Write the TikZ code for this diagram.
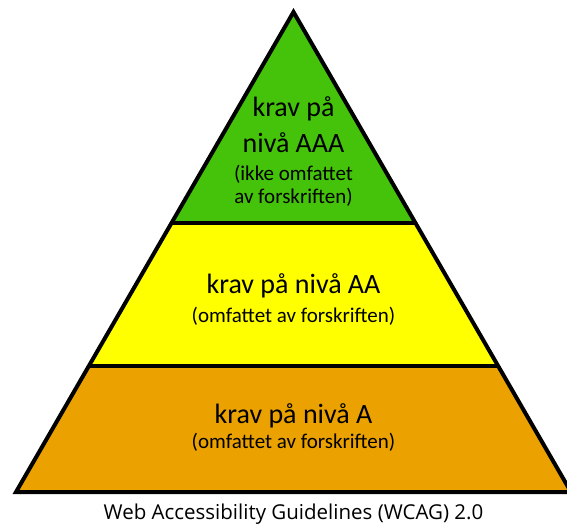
\documentclass[tikz,border=0pt]{standalone}
\usepackage{fontspec}
\setmainfont{Carlito}
\newfontfamily\capfont{Open Sans}
\definecolor{lvlgreen}{RGB}{68,195,10}
\definecolor{lvlyellow}{RGB}{255,255,0}
\definecolor{lvlorange}{RGB}{235,162,0}
\tikzset{
  big/.style={anchor=base, inner sep=0pt, font=\fontsize{28}{34}\selectfont},
  small/.style={anchor=base, inner sep=0pt, font=\fontsize{21}{25}\selectfont},
  edge/.style={draw=black, line width=4pt, line join=miter},
}
\begin{document}
\begin{tikzpicture}[x=1pt,y=-1pt]
\useasboundingbox (0,0) rectangle (567,524);
% geometry
\coordinate (apex) at (293.5,12);
\coordinate (bl) at (16,492);
\coordinate (br) at (571,492);
\coordinate (m1l) at (171.4,223);
\coordinate (m1r) at (415.6,223);
\coordinate (m2l) at (88.7,366);
\coordinate (m2r) at (498.3,366);
% fills
\fill[lvlgreen] (apex) -- (m1r) -- (m1l) -- cycle;
\fill[lvlyellow] (m1l) -- (m1r) -- (m2r) -- (m2l) -- cycle;
\fill[lvlorange] (m2l) -- (m2r) -- (br) -- (bl) -- cycle;
% lines
\draw[edge] (m1l) -- (m1r);
\draw[edge] (m2l) -- (m2r);
\draw[edge] (apex) -- (br) -- (bl) -- cycle;
% texts
\node[big] (t1a) at (293.5,117) {krav på};
\node[big] (t1b) at (293.5,152) {nivå AAA};
\node[small] (t1c) at (293.5,180) {(ikke omfattet};
\node[small] (t1d) at (293.5,203) {av forskriften)};
\node[big] (t2a) at (293.5,293) {krav på nivå AA};
\node[small] (t2b) at (293.5,322) {(omfattet av forskriften)};
\node[big] (t3a) at (293.5,423) {krav på nivå A};
\node[small] (t3b) at (293.5,448) {(omfattet av forskriften)};
\node[anchor=base, inner sep=0pt, font=\capfont\fontsize{20.5}{24}\selectfont] (cap) at (293.5,519) {Web Accessibility Guidelines (WCAG) 2.0};
\end{tikzpicture}
\end{document}
